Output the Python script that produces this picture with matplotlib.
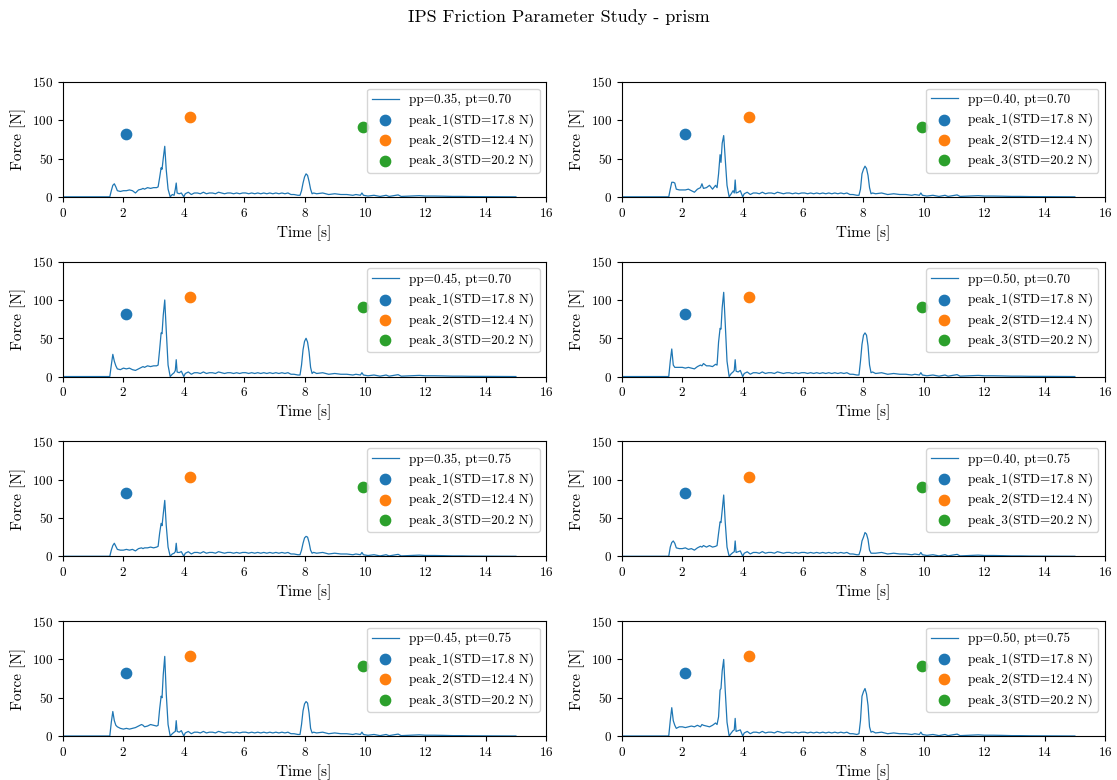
import matplotlib
matplotlib.use('Agg')
import matplotlib.pyplot as plt
import numpy as np

# Computer Modern look (LaTeX-like) without a TeX install;
# cmr10 has no real underscore, so the low line comes from the fallback font
plt.rcParams['font.family'] = ['cmr10', 'DejaVu Serif', 'DejaVu Sans']
plt.rcParams['mathtext.fontset'] = 'cm'
plt.rcParams['axes.formatter.use_mathtext'] = True

# Parameter combinations (pp, pt) per subplot, row by row
pp_vals = [0.35, 0.40, 0.45, 0.50, 0.35, 0.40, 0.45, 0.50]
pt_vals = [0.70, 0.70, 0.70, 0.70, 0.75, 0.75, 0.75, 0.75]

# Reference peaks (time [s], force [N], STD [N])
peak_t = [2.1, 4.2, 9.93]
peak_f = [82, 104, 91]
peak_std = [17.8, 12.4, 20.2]
peak_colors = ['tab:blue', 'tab:orange', 'tab:green']

# Start of the signal: impact + first big peak (different per run)
t_head = [0.0, 1.55, 1.60, 1.65, 1.70, 1.75, 1.80, 1.90, 2.00, 2.10, 2.20, 2.30, 2.40,
          2.50, 2.60, 2.65, 2.70, 2.80, 2.90, 3.00, 3.10, 3.15, 3.20, 3.25, 3.28, 3.32,
          3.37, 3.42, 3.48, 3.55, 3.62, 3.68, 3.72, 3.75, 3.78, 3.85, 3.92, 4.00]
f_head = [
    [0, 0, 8, 15, 17, 13, 8, 7, 8, 8, 9, 8, 5, 9, 10, 11, 10, 12, 11, 12, 12, 13, 25, 38, 36, 50, 66, 35, 10, 0, 3, 2, 10, 18, 5, 4, 5, 0],
    [0, 0, 10, 19, 19, 18, 10, 9, 9, 9, 10, 8, 6, 10, 12, 17, 11, 12, 15, 10, 15, 12, 30, 55, 45, 70, 80, 50, 15, 0, 4, 8, 5, 22, 5, 6, 8, 0],
    [0, 0, 15, 29, 20, 14, 10, 9, 11, 10, 11, 9, 8, 10, 12, 13, 12, 14, 13, 14, 14, 15, 35, 57, 56, 80, 100, 60, 15, 0, 3, 5, 8, 22, 6, 5, 7, 0],
    [0, 0, 20, 36, 15, 12, 12, 12, 12, 11, 12, 11, 10, 13, 15, 14, 17, 14, 14, 13, 16, 15, 45, 63, 62, 90, 110, 70, 20, 0, 4, 6, 8, 22, 7, 6, 8, 0],
    [0, 0, 8, 14, 17, 13, 9, 8, 8, 9, 8, 9, 7, 10, 11, 10, 11, 11, 12, 11, 12, 13, 30, 43, 40, 55, 73, 40, 12, 0, 3, 4, 6, 17, 5, 5, 6, 0],
    [0, 0, 12, 18, 20, 17, 11, 10, 10, 11, 9, 10, 8, 11, 13, 12, 14, 12, 14, 12, 13, 14, 30, 45, 44, 60, 80, 45, 12, 0, 3, 5, 6, 20, 5, 6, 7, 0],
    [0, 0, 18, 32, 20, 14, 12, 10, 9, 10, 9, 10, 11, 13, 15, 14, 12, 13, 15, 14, 13, 14, 35, 52, 50, 80, 104, 55, 15, 0, 3, 5, 6, 20, 6, 5, 7, 0],
    [0, 0, 20, 37, 20, 14, 10, 12, 12, 11, 12, 13, 12, 14, 12, 15, 14, 13, 12, 14, 17, 15, 25, 60, 62, 85, 100, 60, 18, 0, 4, 7, 8, 23, 6, 7, 8, 0],
]

# Sliding phase between the two peaks (same for all runs)
t_mid = [4.05, 4.15, 4.25, 4.35, 4.45, 4.55, 4.65, 4.75, 4.85, 4.95, 5.05, 5.15, 5.25,
         5.35, 5.45, 5.55, 5.65, 5.75, 5.85, 5.95, 6.05, 6.15, 6.25, 6.35, 6.45, 6.55,
         6.65, 6.75, 6.85, 6.95, 7.05, 7.15, 7.25, 7.35, 7.45, 7.55, 7.65, 7.78]
f_mid = [4, 6, 3, 5, 5, 4, 6, 4, 5, 5, 4, 6, 5, 4, 5, 5, 4, 5, 4, 5,
         5, 4, 5, 4, 5, 4, 5, 4, 5, 4, 5, 4, 5, 4, 5, 3, 3, 2]

# Second peak around 8 s (different per run)
t_bump = [7.85, 7.90, 7.95, 8.00, 8.05, 8.10, 8.15, 8.20, 8.25, 8.30]
f_bump = [
    [2, 8, 18, 26, 30, 28, 20, 10, 4, 5],
    [2, 10, 30, 36, 40, 37, 28, 12, 4, 5],
    [2, 15, 35, 46, 50, 45, 32, 12, 4, 6],
    [2, 20, 42, 54, 57, 54, 40, 15, 5, 6],
    [2, 8, 17, 24, 26, 25, 18, 8, 4, 5],
    [2, 8, 20, 25, 31, 29, 22, 8, 4, 4],
    [2, 15, 33, 42, 45, 43, 30, 10, 4, 5],
    [3, 20, 52, 58, 62, 55, 40, 12, 5, 6],
]

# Decaying tail (same for all runs)
t_tail = [8.4, 8.6, 8.8, 9.0, 9.2, 9.4, 9.6, 9.7, 9.85, 9.9, 9.95, 10.1, 10.3, 10.5,
          10.7, 10.8, 11.1, 11.2, 11.5, 11.8, 12.0, 12.3, 12.6, 12.9, 13.2, 13.5,
          14.0, 14.5, 15.0]
f_tail = [4, 5, 3, 4, 3, 3, 2, 3, 2, 5, 2, 1, 2, 0.5,
          2, 0.5, 2.5, 0.5, 1, 1.5, 1, 1, 0.8, 0.5, 0.5, 0.3,
          0.2, 0.1, 0]

fig, axes = plt.subplots(4, 2, figsize=(11.17, 7.8), dpi=100)
fig.subplots_adjust(left=0.0564, right=0.9893, top=0.8949, bottom=0.0564,
                    hspace=0.565, wspace=0.157)
fig.suptitle('IPS Friction Parameter Study - prism', fontsize=13, y=0.988)

for i, ax in enumerate(axes.flat):
    t = t_head + t_mid + t_bump + t_tail
    f = f_head[i] + f_mid + f_bump[i] + f_tail
    ax.plot(t, f, color='tab:blue', linewidth=0.9,
            label='pp=%.2f, pt=%.2f' % (pp_vals[i], pt_vals[i]))
    for k in range(3):
        ax.scatter(peak_t[k], peak_f[k], s=55, color=peak_colors[k],
                   label='peak\u02cd%d(STD=%.1f N)' % (k + 1, peak_std[k]))
    ax.set_xlim(0, 16)
    ax.set_ylim(0, 150)
    ax.set_xticks(np.arange(0, 17, 2))
    ax.set_yticks([0, 50, 100, 150])
    ax.tick_params(labelsize=9.5)
    ax.set_xlabel('Time [s]', fontsize=11)
    ax.set_ylabel('Force [N]', fontsize=11)
    ax.legend(loc='upper right', fontsize=9.5)

plt.savefig('out.png')
